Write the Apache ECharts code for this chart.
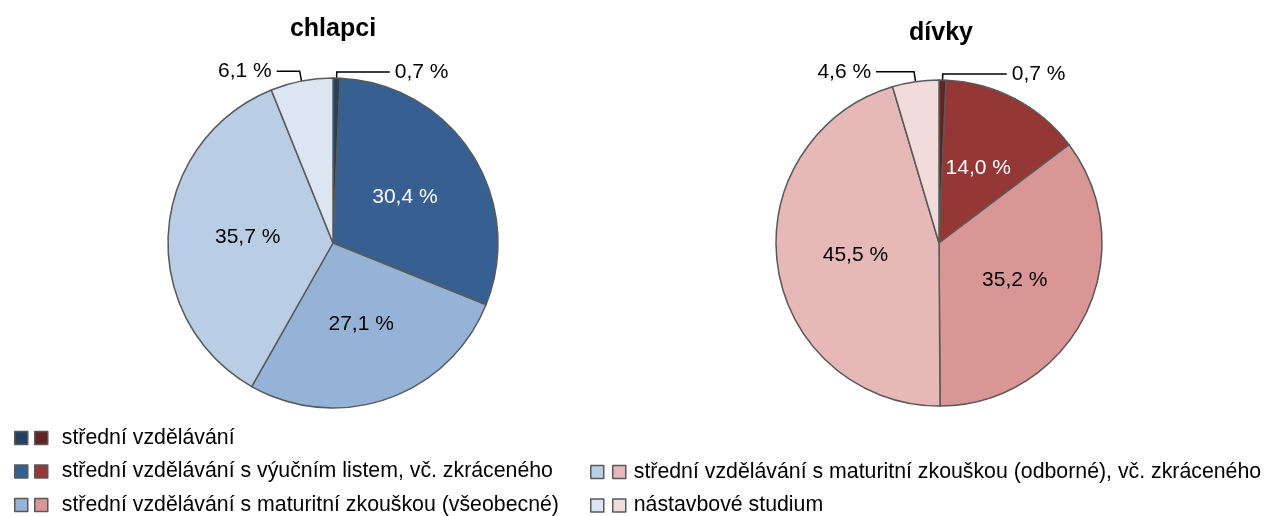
<!DOCTYPE html>
<html><head><meta charset="utf-8">
<script src="https://cdn.jsdelivr.net/npm/echarts@6/dist/echarts.min.js"></script>
<style>html,body{margin:0;padding:0;background:#fff}#c{width:1265px;height:516px}</style>
</head><body><div id="c"></div>
<script>
const categories = [
  'střední vzdělávání',
  'střední vzdělávání s výučním listem, vč. zkráceného',
  'střední vzdělávání s maturitní zkouškou (všeobecné)',
  'střední vzdělávání s maturitní zkouškou (odborné), vč. zkráceného',
  'nástavbové studium'
];
const boysValues = [0.7, 30.4, 27.1, 35.7, 6.1];
const girlsValues = [0.7, 14.0, 35.2, 45.5, 4.6];
const pieTitles = ['chlapci', 'dívky'];

const boysColors = ['#254061', '#376092', '#95B3D7', '#B9CDE5', '#DCE6F2'];
const girlsColors = ['#632523', '#953735', '#D99694', '#E6B9B8', '#F2DCDB'];
const FONT = 'Liberation Sans, Arial, sans-serif';

function fmt(p) { return p.value.toFixed(1).replace('.', ',') + ' %'; }

function labelFor(i, outsideOpts) {
  if (outsideOpts) {
    return {
      label: { show: true, position: 'outside', formatter: fmt, color: '#000', fontSize: 21, fontFamily: FONT, padding: [0, 0, outsideOpts[2], 0] },
      labelLine: { show: true, length: outsideOpts[0], length2: outsideOpts[1], lineStyle: { color: '#000', width: 1.5 } }
    };
  }
  return {
    label: { show: true, position: 'inside', formatter: fmt, color: i === 1 ? '#fff' : '#000', fontSize: 21, fontFamily: FONT },
    labelLine: { show: false }
  };
}

function buildData(values, colors, outsideMap) {
  return values.map((v, i) => Object.assign({
    name: categories[i],
    value: v,
    itemStyle: { color: colors[i], borderColor: '#595959', borderWidth: 1.5 }
  }, labelFor(i, outsideMap[i])));
}

const boysData = buildData(boysValues, boysColors, { 0: [6, 53, 12], 4: [10, 23, 12] });
const girlsData = buildData(girlsValues, girlsColors, { 0: [6, 64, 8], 4: [10, 38, 8] });

const iconStyle = { borderColor: '#595959', borderWidth: 1.5 };
function legendData(idx, colors) {
  return idx.map(i => ({ name: categories[i], icon: 'rect', itemStyle: Object.assign({ color: colors[i] }, iconStyle) }));
}
const legendCommon = {
  orient: 'vertical', selectedMode: false, itemWidth: 13, itemHeight: 13, itemGap: 9.5, padding: 0,
  height: 200, width: 700,
  textStyle: { fontSize: 21.3, fontFamily: FONT, color: '#000', lineHeight: 24 }
};

const option = {
  backgroundColor: '#fff',
  animation: false,
  title: [
    { text: pieTitles[0], left: 328, top: 12, textAlign: 'center', textStyle: { fontSize: 25, fontWeight: 'bold', fontFamily: FONT, color: '#000' } },
    { text: pieTitles[1], left: 936, top: 16, textAlign: 'center', textStyle: { fontSize: 25, fontWeight: 'bold', fontFamily: FONT, color: '#000' } }
  ],
  legend: [
    Object.assign({}, legendCommon, { left: 14, top: 426, data: legendData([0, 1, 2], boysColors), formatter: () => ' ' }),
    Object.assign({}, legendCommon, { left: 34, top: 426, data: legendData([0, 1, 2], girlsColors),
      textStyle: Object.assign({}, legendCommon.textStyle, { padding: [0, 0, 0, 9] }) }),
    Object.assign({}, legendCommon, { left: 590, top: 460, data: legendData([3, 4], boysColors), formatter: () => ' ' }),
    Object.assign({}, legendCommon, { left: 612, top: 460, width: 650, data: legendData([3, 4], girlsColors),
      textStyle: Object.assign({}, legendCommon.textStyle, { padding: [0, 0, 0, 3] }) })
  ],
  series: [
    { type: 'pie', name: pieTitles[0], center: [333, 243], radius: 165, startAngle: 90, clockwise: true,
      avoidLabelOverlap: false, data: boysData, emphasis: { disabled: true } },
    { type: 'pie', name: pieTitles[1], center: [939, 243], radius: 163, startAngle: 90, clockwise: true,
      avoidLabelOverlap: false, data: girlsData, emphasis: { disabled: true } }
  ]
};
const chart = echarts.init(document.getElementById('c'), null, { renderer: 'canvas' });
chart.setOption(option);
</script></body></html>
